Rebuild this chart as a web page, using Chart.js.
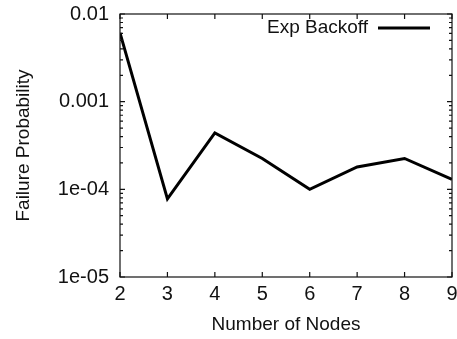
<!DOCTYPE html>
<html>
<head>
<meta charset="utf-8">
<script src="https://cdn.jsdelivr.net/npm/chart.js@4.4.0/dist/chart.umd.min.js"></script>
<style>
  html, body { margin: 0; padding: 0; background: #fff; }
  #wrap { width: 457px; height: 339px; position: relative; }
</style>
</head>
<body>
<div id="wrap"><canvas id="failChart"></canvas></div>
<script>
var nodes = [2, 3, 4, 5, 6, 7, 8, 9];
var failProb = [0.0061, 0.000078, 0.00044, 0.000225, 0.0001, 0.00018, 0.000225, 0.00013];
var seriesName = 'Exp Backoff';
var yDecades = [0.00001, 0.0001, 0.001, 0.01];
var yTickLabels = ['1e-05', '1e-04', '0.001', '0.01'];

var fontFamily = '"Liberation Sans", Arial, Helvetica, sans-serif';

// all ticks of each decade (1..9 x 10^k), majors at the decades
function logTicks() {
    var list = [];
    for (var i = 0; i < yDecades.length; i++) {
        list.push({ value: yDecades[i], major: true });
        if (i < yDecades.length - 1) {
            for (var m = 2; m <= 9; m++) {
                list.push({ value: yDecades[i] * m, major: false });
            }
        }
    }
    return list;
}

// keep label overflow from shrinking the plot area
function noOverflow(scale) {
    scale.paddingTop = 0;
    scale.paddingBottom = 0;
    scale.paddingLeft = 0;
    scale.paddingRight = 0;
}

// frame, inward ticks on all four sides and the legend box
var framePlugin = {
    id: 'framePlugin',
    afterDraw: function (chart) {
        var ctx = chart.ctx;
        var a = chart.chartArea;
        var xs = chart.scales.x;
        var ys = chart.scales.y;
        ctx.save();
        ctx.strokeStyle = '#111';
        ctx.lineWidth = 1.2;
        ctx.strokeRect(a.left, a.top, a.right - a.left, a.bottom - a.top);

        ctx.beginPath();
        xs.ticks.forEach(function (t) {
            var px = xs.getPixelForValue(t.value);
            ctx.moveTo(px, a.bottom); ctx.lineTo(px, a.bottom - 5);
            ctx.moveTo(px, a.top); ctx.lineTo(px, a.top + 5);
        });
        ys.ticks.forEach(function (t) {
            var py = ys.getPixelForValue(t.value);
            var len = t.major ? 5 : 3;
            ctx.moveTo(a.left, py); ctx.lineTo(a.left + len, py);
            ctx.moveTo(a.right, py); ctx.lineTo(a.right - len, py);
        });
        ctx.stroke();

        // legend: label then sample line, top right inside the plot
        var ds = chart.data.datasets[0];
        var ly = a.top + 14;
        var lineEnd = a.right - 22;
        var lineStart = lineEnd - 52;
        ctx.font = '19px ' + fontFamily;
        ctx.fillStyle = '#111';
        ctx.textAlign = 'right';
        ctx.textBaseline = 'middle';
        ctx.fillText(ds.label, lineStart - 10, ly);
        ctx.strokeStyle = ds.borderColor;
        ctx.lineWidth = ds.borderWidth;
        ctx.beginPath();
        ctx.moveTo(lineStart, ly);
        ctx.lineTo(lineEnd, ly);
        ctx.stroke();
        ctx.restore();
    }
};

var points = [];
for (var i = 0; i < nodes.length; i++) {
    points.push({ x: nodes[i], y: failProb[i] });
}

var ctx = document.getElementById('failChart').getContext('2d');
var myChart = new Chart(ctx, {
    type: 'line',
    data: {
        datasets: [{
            label: seriesName,
            data: points,
            borderColor: '#000',
            borderWidth: 3,
            pointRadius: 0,
            tension: 0,
            fill: false
        }]
    },
    options: {
        responsive: true,
        maintainAspectRatio: false,
        animation: false,
        layout: { padding: { top: 14, right: 5, left: 0, bottom: 0 } },
        plugins: {
            legend: { display: false },
            tooltip: { enabled: false }
        },
        scales: {
            x: {
                type: 'linear',
                min: nodes[0],
                max: nodes[nodes.length - 1],
                grid: { display: false, drawTicks: false },
                border: { display: false },
                ticks: {
                    stepSize: 1,
                    padding: 5,
                    color: '#111',
                    font: { family: fontFamily, size: 20 },
                    maxRotation: 0
                },
                title: {
                    display: true,
                    text: 'Number of Nodes',
                    color: '#111',
                    font: { family: fontFamily, size: 19 },
                    padding: { top: 0, bottom: 3 }
                },
                afterFit: function (scale) {
                    scale.height = 62;
                    noOverflow(scale);
                }
            },
            y: {
                type: 'logarithmic',
                min: yDecades[0],
                max: yDecades[yDecades.length - 1],
                grid: { display: false, drawTicks: false },
                border: { display: false },
                afterBuildTicks: function (scale) { scale.ticks = logTicks(); },
                ticks: {
                    autoSkip: false,
                    padding: 11,
                    color: '#111',
                    font: { family: fontFamily, size: 20 },
                    callback: function (value) {
                        var idx = yDecades.findIndex(function (d) { return Math.abs(d - value) / d < 1e-6; });
                        return idx >= 0 ? yTickLabels[idx] : '';
                    }
                },
                title: {
                    display: true,
                    text: 'Failure Probability',
                    color: '#111',
                    font: { family: fontFamily, size: 19 },
                    padding: { top: 12, bottom: 0 }
                },
                afterFit: function (scale) {
                    scale.width = 120;
                    noOverflow(scale);
                }
            }
        }
    },
    plugins: [framePlugin]
});
</script>
</body>
</html>
